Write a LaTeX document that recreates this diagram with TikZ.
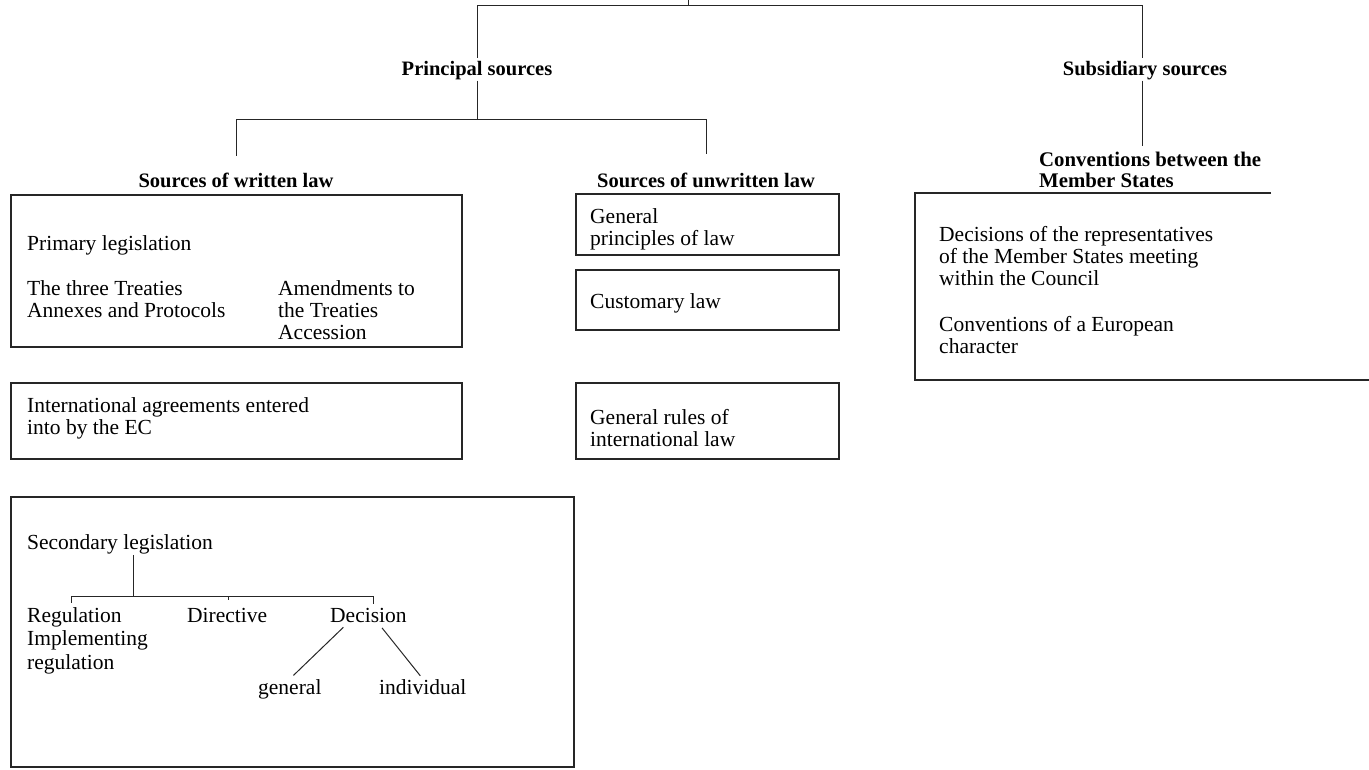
\documentclass[tikz,border=0pt]{standalone}
\usepackage{fontspec}
\setmainfont{Liberation Serif}
\usetikzlibrary{calc}
\begin{document}
\begin{tikzpicture}[x=1pt,y=-1pt,
  ln/.style={draw=black!85, line width=1pt},
  bx/.style={draw=black!85, line width=1.3pt},
  txt/.style={inner sep=0pt, anchor=base west, align=left, font=\fontsize{21.5}{22}\selectfont},
  hd/.style={inner sep=0pt, anchor=base, align=center, font=\fontsize{20.5}{21}\selectfont\bfseries},
  hdl/.style={inner sep=0pt, anchor=base west, align=left, font=\fontsize{20.8}{21}\selectfont\bfseries},
]
\useasboundingbox (0,0) rectangle (1369,769);

% ---- boxes
\draw[bx] (11,195) rectangle (462,347);
\draw[bx] (11,383) rectangle (462,459);
\draw[bx] (11,497) rectangle (574,767);
\draw[bx] (576,194) rectangle (839,255);
\draw[bx] (576,270) rectangle (839,330);
\draw[bx] (576,383) rectangle (839,459);
\draw[bx] (1271,193) -- (915,193) -- (915,380) -- (1369,380);

% ---- headings (base anchor = baseline of the last line)
\node[hd] (princ) at (477,75) {Principal sources};
\node[hd] (subs) at (1145,75) {Subsidiary sources};
\node[hd] (wlaw) at (236,187) {Sources of written law};
\node[hd] (ulaw) at (706,187) {Sources of unwritten law};
\node[hdl] (convh) at (1039,187) {Conventions between the\\Member States};

% ---- texts
\node[txt] (prim) at (27,250) {Primary legislation};
\node[txt] (treat) at (27,317) {The three Treaties\\Annexes and Protocols};
\node[txt] (amend) at (278,339) {Amendments to\\the Treaties\\Accession};
\node[txt] (intl) at (27,434) {International agreements entered\\into by the EC};
\node[txt] (secleg) at (27,549) {Secondary legislation};
\node[txt, font=\fontsize{21.5}{23.5}\selectfont] (reg) at (27,669) {Regulation\\Implementing\\regulation};
\node[txt] (dir) at (187,622) {Directive};
\node[txt] (dec) at (330,622) {Decision};
\node[txt] (gen) at (258,694) {general};
\node[txt] (ind) at (379,694) {individual};
\node[txt] (genp) at (590,245) {General\\principles of law};
\node[txt] (cust) at (590,308) {Customary law};
\node[txt] (genr) at (590,446) {General rules of\\international law};
\node[txt] (decis) at (939,285) {Decisions of the representatives\\of the Member States meeting\\within the Council};
\node[txt] (conve) at (939,353) {Conventions of a European\\character};

% ---- connectors (top level)
\coordinate (tick) at (688,0);
\coordinate (tl) at (477,5);
\coordinate (tr) at (1142,5);
\coordinate (bl) at (236,119);
\coordinate (bm) at (477,119);
\coordinate (br) at (706,119);
\draw[ln] (tick) -- (tick |- tl);
\draw[ln] (tl) -- (tr);
\draw[ln, shorten >=3pt] (tl) -- (princ.north);
\draw[ln, shorten <=1pt] (princ.south) -- (bm);
\draw[ln] (bl) -- (br);
\draw[ln, shorten >=16pt] (bl) -- (wlaw.north);
\draw[ln, shorten >=18pt] (br) -- (ulaw.north);
\draw[ln, shorten >=3pt] (tr) -- (tr |- subs.north);
\draw[ln, shorten <=1pt, shorten >=5pt] (tr |- subs.south) -- (tr |- convh.north);

% ---- secondary legislation tree
\coordinate (sj) at (133,596);
\coordinate (s1) at (71,596);
\coordinate (s2) at (228,596);
\coordinate (s3) at (373,596);
\draw[ln, shorten <=1pt] (sj |- secleg.south) -- (sj);
\draw[ln] (s1) -- (s3);
\draw[ln, shorten >=4pt] (s1) -- (s1 |- reg.north);
\draw[ln, shorten >=8pt] (s2) -- (s2 |- dir.north);
\draw[ln, shorten >=4pt] (s3) -- (s3 |- dec.north);
\draw[ln, shorten <=7pt, shorten >=5pt] ($(dec.south west)!0.24!(dec.south east)$) -- (gen.north);
\draw[ln, shorten <=7pt, shorten >=4pt] ($(dec.south west)!0.62!(dec.south east)$) -- (ind.north);
\end{tikzpicture}
\end{document}
